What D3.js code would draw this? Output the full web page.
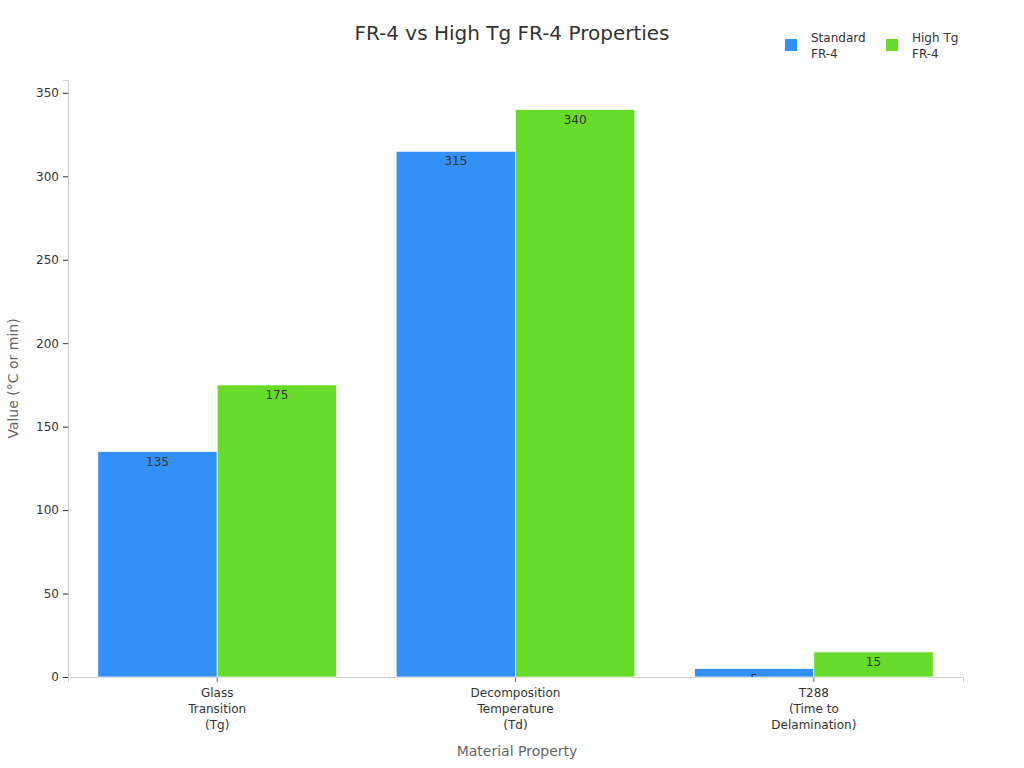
<!DOCTYPE html>
<html>
<head>
<meta charset="utf-8">
<script src="https://cdn.jsdelivr.net/npm/d3@7"></script>
<style>
  body { margin: 0; background: #fff; }
  text { font-family: "DejaVu Sans", sans-serif; }
</style>
</head>
<body>
<svg id="chart" width="1024" height="768"></svg>
<script>
const categories = [["Glass", "Transition", "(Tg)"], ["Decomposition", "Temperature", "(Td)"], ["T288", "(Time to", "Delamination)"]];
const series_names = ["Standard FR-4", "High Tg FR-4"];
const legend_lines = [["Standard", "FR-4"], ["High Tg", "FR-4"]];
const standard_vals = [135, 315, 5];
const hightg_vals = [175, 340, 15];
const y_ticks = [0, 50, 100, 150, 200, 250, 300, 350];
const colors = ["#3290f7", "#67db2a"];

const svg = d3.select("#chart");
const margin = {left: 68, right: 61, top: 80, bottom: 91};
const width = 1024 - margin.left - margin.right,
    height = 768 - margin.top - margin.bottom;

const g = svg.append("g").attr("transform", `translate(${margin.left},${margin.top})`);

let x0 = d3.scaleBand().domain(d3.range(categories.length)).range([0, width])
    .paddingInner(0.2).paddingOuter(0.1);
let x1 = d3.scaleBand().domain([0, 1]).range([0, x0.bandwidth()]);
let y = d3.scaleLinear().domain([0, 357.7]).range([height, 0]);

// axes
const yAxis = g.append("g").call(d3.axisLeft(y).tickValues(y_ticks).tickSize(5).tickPadding(4));
yAxis.select(".domain").attr("stroke", "#ccc");
yAxis.selectAll(".tick line").attr("stroke", "#333");
yAxis.selectAll(".tick text").attr("fill", "#333").style("font-size", "12px");

const xAxis = g.append("g").attr("transform", `translate(0,${height})`)
    .call(d3.axisBottom(x0).tickSize(5).tickFormat(""));
xAxis.select(".domain").attr("stroke", "#ccc");
xAxis.selectAll(".tick line").attr("stroke", "#666");
xAxis.selectAll(".tick").each(function (d) {
    const t = d3.select(this).append("text")
        .attr("fill", "#333").attr("text-anchor", "middle")
        .style("font-size", "12px").attr("y", 20);
    categories[d].forEach(function (line, i) {
        t.append("tspan").attr("x", 0).attr("dy", i === 0 ? 0 : 16).text(line);
    });
});

// bars
const rows = categories.map((c, i) => [standard_vals[i], hightg_vals[i]]);
const groups = g.append("g").selectAll("g")
    .data(rows).enter().append("g")
    .attr("transform", (d, i) => `translate(${x0(i)},0)`);

groups.selectAll("rect")
    .data(d => d.map((v, k) => ({v: v, k: k})))
    .enter().append("rect")
    .attr("x", d => x1(d.k))
    .attr("y", d => y(d.v))
    .attr("width", x1.bandwidth())
    .attr("height", d => height - y(d.v))
    .attr("fill", d => colors[d.k])
    .attr("stroke", "#fff")
    .attr("stroke-width", 0.7);

// value labels, clipped to their bar
const defs = svg.append("defs");
groups.each(function (row, gi) {
    row.forEach(function (v, k) {
        const id = "clip_" + gi + "_" + k;
        defs.append("clipPath").attr("id", id)
            .append("rect")
            .attr("x", margin.left + x0(gi) + x1(k))
            .attr("y", margin.top + y(v))
            .attr("width", x1.bandwidth())
            .attr("height", height - y(v));
        svg.append("text")
            .attr("clip-path", `url(#${id})`)
            .attr("x", margin.left + x0(gi) + x1(k) + x1.bandwidth() / 2)
            .attr("y", margin.top + y(v) + 14)
            .attr("text-anchor", "middle")
            .attr("fill", "#333")
            .style("font-size", "12px")
            .text(v);
    });
});

// title
svg.append("text").attr("x", 512).attr("y", 40).attr("text-anchor", "middle")
    .attr("fill", "#333").style("font-size", "20px")
    .text("FR-4 vs High Tg FR-4 Properties");

// axis titles
svg.append("text").attr("x", 517).attr("y", 756).attr("text-anchor", "middle")
    .attr("fill", "#666").style("font-size", "14px").text("Material Property");
svg.append("text").attr("transform", `translate(18,${margin.top + height / 2}) rotate(-90)`)
    .attr("text-anchor", "middle").attr("fill", "#666").style("font-size", "14px")
    .text("Value (°C or min)");

// legend
const legend_x = [785, 886];
series_names.forEach(function (name, i) {
    svg.append("rect").attr("x", legend_x[i]).attr("y", 39).attr("width", 12).attr("height", 12)
        .attr("fill", colors[i]);
    const t = svg.append("text").attr("fill", "#333").style("font-size", "12px")
        .attr("y", 42);
    legend_lines[i].forEach(function (line, j) {
        t.append("tspan").attr("x", legend_x[i] + 26).attr("dy", j === 0 ? 0 : 16).text(line);
    });
});
</script>
</body>
</html>
